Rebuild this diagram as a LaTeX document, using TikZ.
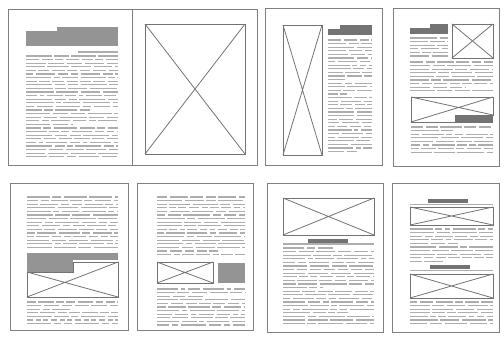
\documentclass[tikz,border=0pt]{standalone}
\begin{document}
\begin{tikzpicture}[x=1pt,y=-1pt,
  pageframe/.style={draw=black!50,line width=0.9pt},
  xbox/.style={draw=black!55,line width=0.8pt},
  txt/.style={draw=black!32,line width=1.35pt},
  halftone/.style={fill=black!42},
  headblk/.style={fill=black!55}]
\pgfmathsetseed{4217}
\newcommand\greek[5]{%
  \pgfmathtruncatemacro\nl{(#4-#3)/#5}%
  \foreach \k in {0,...,\nl}{%
    \pgfmathsetmacro\yy{#3+\k*#5}%
    \pgfmathsetmacro\aa{6+rnd*22}%
    \pgfmathsetmacro\bb{4+rnd*18}%
    \pgfmathsetmacro\cc{5+rnd*22}%
    \pgfmathsetmacro\xe{rnd<0.14 ? #1+(#2-#1)*(0.35+0.4*rnd) : #2}%
    \draw[txt,dash pattern=on \aa pt off 2.6pt on \bb pt off 2.6pt on \cc pt off 2.6pt] (#1,\yy) -- (\xe,\yy);
  }}
\newcommand\crossbox[4]{%
  \draw[xbox] (#1,#2) rectangle (#3,#4);
  \draw[xbox] (#1,#2) -- (#3,#4) (#1,#4) -- (#3,#2);}
\fill[white] (0,0) rectangle (504,341);
\useasboundingbox (0,0) rectangle (504,341);
% ---- spread 1
\draw[pageframe] (8,9) rectangle (257,165);
\draw[pageframe] (132,9) -- (132,165);
\fill[halftone] (57,27) rectangle (118,32);
\fill[halftone] (26,31) rectangle (118,46);
\draw[txt] (78,52) -- (118,52);
\greek{26}{118}{56}{157}{3.6}
\crossbox{145}{24}{245}{154}
% ---- page 3
\draw[pageframe] (265,8) rectangle (382,165);
\crossbox{283}{25}{322}{155}
\fill[headblk] (340,25) rectangle (372,29);
\fill[headblk] (328,29) rectangle (372,35);
\greek{328}{372}{40}{155}{3.6}
% ---- page 4
\draw[pageframe] (393,8) rectangle (499,166);
\fill[headblk] (430,24) rectangle (448,28);
\fill[headblk] (410,28) rectangle (448,34);
\crossbox{452}{24}{493}{58}
\greek{410}{448}{38}{58}{3.6}
\greek{410}{493}{62}{93}{3.6}
\draw[xbox] (411,97) -- (493,97) -- (493,115) -- (455,115) -- (455,122) -- (411,122) -- cycle;
\draw[xbox] (411,97) -- (493,115) (411,122) -- (493,97);
\fill[headblk] (456,116) rectangle (493,123);
\greek{411}{493}{127}{155}{3.6}
% ---- page 5
\draw[pageframe] (10,183) rectangle (128,330);
\greek{27}{118}{197}{250}{3.6}
\fill[halftone] (27,253) rectangle (73,272);
\fill[halftone] (73,253) rectangle (118,260);
\draw[xbox] (27,272) -- (73,272) -- (73,262) -- (118,262) -- (118,297) -- (27,297) -- cycle;
\draw[xbox] (27,272) -- (118,297) (27,297) -- (118,262);
\greek{27}{118}{302}{327}{3.6}
% ---- page 6
\draw[pageframe] (137,183) rectangle (253,330);
\greek{157}{245}{197}{257}{3.6}
\crossbox{157}{262}{213}{283}
\fill[halftone] (218,263) rectangle (245,283);
\greek{157}{245}{289}{327}{3.6}
% ---- page 7
\draw[pageframe] (267,183) rectangle (383,332);
\crossbox{283}{198}{374}{235}
\fill[headblk] (308,239) rectangle (348,243);
\draw[txt] (283,244) -- (374,244);
\greek{283}{374}{248}{325}{3.6}
% ---- page 8
\draw[pageframe] (392,183) rectangle (499,332);
\fill[headblk] (428,199) rectangle (468,203);
\draw[txt] (410,204.5) -- (493,204.5);
\crossbox{410}{207}{493}{225}
\greek{410}{493}{229}{262}{3.6}
\fill[headblk] (430,265) rectangle (470,269);
\draw[txt] (410,270.5) -- (493,270.5);
\crossbox{410}{274}{493}{298}
\greek{410}{493}{302}{325}{3.6}
\end{tikzpicture}
\end{document}
